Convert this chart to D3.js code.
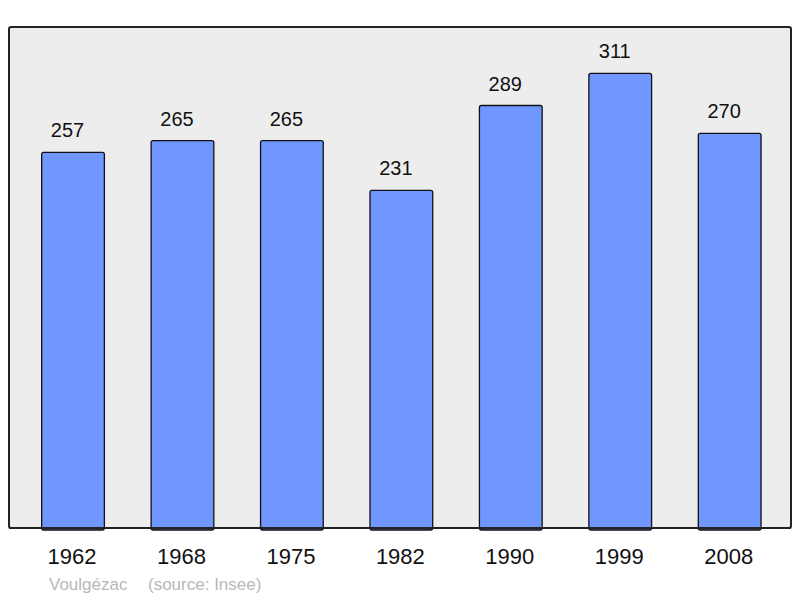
<!DOCTYPE html>
<html><head><meta charset="utf-8">
<script src="https://cdn.jsdelivr.net/npm/d3@7"></script>
<style>body{margin:0;background:#fff}svg{display:block}</style>
</head><body>
<svg id="c" width="800" height="598"></svg>
<script>
const years = ["1962","1968","1975","1982","1990","1999","2008"];
const population = [257,265,265,231,289,311,270];
const place = "Voulgézac";
const source = "(source: Insee)";

const svg = d3.select("#c");
const font = "'Liberation Sans', Arial, sans-serif";
const x = d3.scaleBand().domain(years).range([18.3, 784.4]).paddingInner(0.427).paddingOuter(0.2135);
const y = d3.scaleLinear().domain([0, 342.7]).range([528, 27]);

svg.append("rect").attr("x",9).attr("y",27).attr("width",782).attr("height",501)
  .attr("rx",2).attr("fill","#ededed").attr("stroke","#222").attr("stroke-width",2);

svg.selectAll("rect.bar").data(population).join("rect").attr("class","bar")
  .attr("x",(d,i)=>x(years[i])).attr("width",x.bandwidth())
  .attr("y",d=>y(d)).attr("height",d=>y(0)-y(d)+2).attr("rx",2)
  .attr("fill","#7097ff").attr("stroke","#111").attr("stroke-width",1.3);

svg.append("line").attr("x1",9).attr("x2",791).attr("y1",528).attr("y2",528).attr("stroke","#222").attr("stroke-width",2);

svg.selectAll("text.val").data(population).join("text").attr("class","val")
  .attr("x",(d,i)=>x(years[i])+x.bandwidth()/2-5.5).attr("y",d=>y(d)-15)
  .attr("text-anchor","middle").attr("font-family",font).attr("font-size",20).attr("fill","#111")
  .text(d=>d);

const xAxis = d3.axisBottom(x).tickSize(0).tickPadding(0);
const g = svg.append("g").attr("transform","translate(-1,563.5)").call(xAxis);
g.select(".domain").remove();
g.selectAll("text").attr("font-family",font).attr("font-size",22).attr("fill","#111").attr("dy","0");

const foot = svg.append("g").attr("font-family",font).attr("font-size",17).attr("fill","#b8b8b8");
foot.append("text").attr("x",49).attr("y",590).text(place);
foot.append("text").attr("x",148).attr("y",590).text(source);
</script>
</body></html>
